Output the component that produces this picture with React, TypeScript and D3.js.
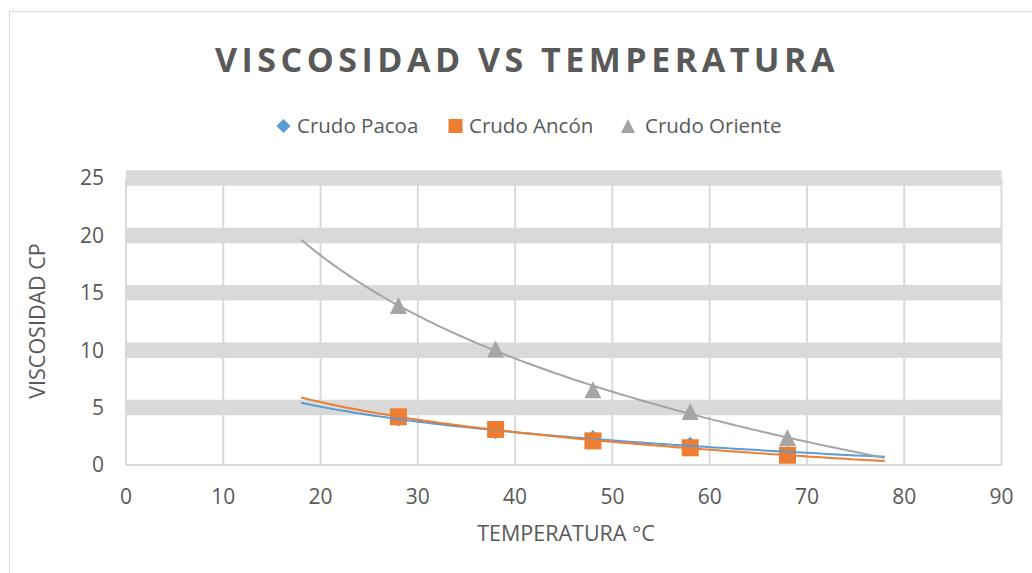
import React from "react";
import * as d3 from "d3";

const temps = [28, 38, 48, 58, 68];
const pacoa = [4.0, 2.9, 2.4, 1.8, 1.0];
const ancon = [4.2, 3.1, 2.1, 1.5, 0.85];
const oriente = [13.9, 10.1, 6.55, 4.65, 2.4];
const xTicks = [0, 10, 20, 30, 40, 50, 60, 70, 80, 90];
const yTicks = [0, 5, 10, 15, 20, 25];
const seriesNames = ["Crudo Pacoa", "Crudo Ancón", "Crudo Oriente"];
const trendRange = [18, 78];

const W = 1032;
const H = 573;
const FONT = "'Open Sans', sans-serif";
const TXT = "#595959";
const GRID = "#d9d9d9";
const colors = ["#5B9BD5", "#ED7D31", "#A5A5A5"];

function logFit(xs: number[], ys: number[]) {
  const lx = xs.map((v) => Math.log(v));
  const mx = d3.mean(lx) as number;
  const my = d3.mean(ys) as number;
  let sxy = 0, sxx = 0;
  lx.forEach((v, i) => {
    sxy += (v - mx) * (ys[i] - my);
    sxx += (v - mx) * (v - mx);
  });
  const b = sxy / sxx;
  const a = my - b * mx;
  return (x: number) => a + b * Math.log(x);
}

function Marker({ kind, x, y, size, color }: { kind: number; x: number; y: number; size: number; color: string }) {
  const h = size / 2;
  if (kind === 0) {
    return <path d={`M${x},${y - h}L${x + h},${y}L${x},${y + h}L${x - h},${y}Z`} fill={color} />;
  }
  if (kind === 1) {
    return <rect x={x - h} y={y - h} width={size} height={size} fill={color} />;
  }
  return <path d={`M${x},${y - h}L${x + h},${y + h}L${x - h},${y + h}Z`} fill={color} />;
}

export default function App() {
  const x = d3.scaleLinear().domain([0, 90]).range([126, 1001.5]);
  const y = d3.scaleLinear().domain([0, 25]).range([465, 178]);
  const all = [pacoa, ancon, oriente];
  const fits = all.map((s) => logFit(temps, s));
  const samples = d3.range(trendRange[0], trendRange[1] + 0.001, 0.5);

  const legendX = [[283.5, 297], [455.5, 469], [628, 645]];

  return (
    <svg width={W} height={H} style={{ position: "absolute", left: 0, top: 0, background: "#fff" }} fontFamily={FONT}>
      <rect x={0} y={0} width={W} height={H} fill="#fff" />
      <rect x={9.5} y={11.5} width={W} height={H} fill="none" stroke="#d9d9d9" strokeWidth={1} />
      <text x={527} y={71.5} textAnchor="middle" fontSize={34} fontWeight={700} fill={TXT} letterSpacing={4.5}>
        VISCOSIDAD VS TEMPERATURA
      </text>
      {seriesNames.map((n, i) => (
        <g key={n}>
          <Marker kind={i} x={legendX[i][0]} y={126} size={14} color={colors[i]} />
          <text x={legendX[i][1]} y={133} fontSize={20.5} fill={TXT}>
            {n}
          </text>
        </g>
      ))}
      {yTicks.filter((t) => t > 0).map((t) => (
        <line key={"h" + t} x1={x(0)} x2={x(90)} y1={y(t)} y2={y(t)} stroke={GRID} strokeWidth={15.5} />
      ))}
      {xTicks.map((t) => (
        <line key={"v" + t} x1={x(t)} x2={x(t)} y1={y(25)} y2={y(0)} stroke={GRID} strokeWidth={2} />
      ))}
      <line x1={x(0)} x2={x(90)} y1={y(0)} y2={y(0)} stroke={GRID} strokeWidth={2} />
      {yTicks.map((t) => (
        <text key={"yl" + t} x={104} y={y(t)} dy="0.35em" textAnchor="end" fontSize={21} fill={TXT}>
          {t}
        </text>
      ))}
      {xTicks.map((t) => (
        <text key={"xl" + t} x={x(t)} y={497} dy="0.35em" textAnchor="middle" fontSize={21} fill={TXT}>
          {t}
        </text>
      ))}
      <text x={566} y={541} textAnchor="middle" fontSize={21.5} fill={TXT}>
        TEMPERATURA °C
      </text>
      <text transform={`translate(45,321) rotate(-90)`} textAnchor="middle" fontSize={21.5} fill={TXT}>
        VISCOSIDAD CP
      </text>
      {all.map((s, si) => (
        <g key={"m" + si}>
          {s.map((v, i) => (
            <Marker key={i} kind={si} x={x(temps[i])} y={y(v)} size={si === 0 ? 15 : 17} color={colors[si]} />
          ))}
        </g>
      ))}
      {fits.map((f, si) => (
        <path
          key={"t" + si}
          d={d3.line<number>().x((d) => x(d)).y((d) => y(f(d)))(samples) || ""}
          fill="none"
          stroke={colors[si]}
          strokeWidth={2}
        />
      ))}
    </svg>
  );
}
